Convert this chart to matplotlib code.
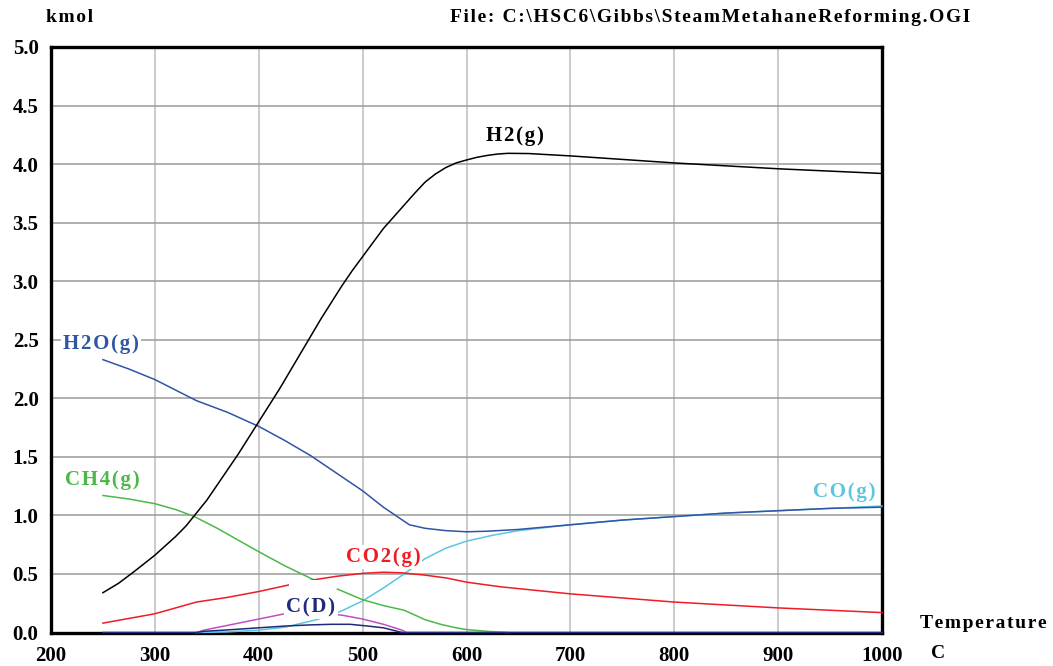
import matplotlib
matplotlib.use("Agg")
import matplotlib.pyplot as plt
from matplotlib.patches import Rectangle

# ---- data ----
h2_T = [250, 265, 280, 290, 300, 310, 320, 330, 340, 350, 360, 370, 380, 390, 400, 410, 420, 430,
        440, 450, 460, 470, 480, 490, 500, 510, 520, 530, 540, 550, 560, 570, 580, 590, 600, 610,
        620, 630, 640, 660, 680, 700, 750, 800, 850, 900, 950, 1000]
h2_v = [0.34, 0.42, 0.52, 0.59, 0.66, 0.74, 0.82, 0.91, 1.02, 1.13, 1.26, 1.39, 1.52, 1.66, 1.80,
        1.94, 2.08, 2.23, 2.38, 2.53, 2.68, 2.82, 2.96, 3.09, 3.21, 3.33, 3.45, 3.55, 3.65, 3.75,
        3.845, 3.915, 3.97, 4.01, 4.035, 4.058, 4.074, 4.086, 4.092, 4.09, 4.08, 4.07, 4.04, 4.01,
        3.985, 3.96, 3.94, 3.92]

h2o_T = [250, 275, 300, 320, 340, 370, 400, 425, 450, 475, 500, 520, 540, 545, 560, 580, 600, 620,
         650, 700, 750, 800, 850, 900, 950, 1000]
h2o_v = [2.33, 2.25, 2.16, 2.07, 1.98, 1.88, 1.76, 1.64, 1.51, 1.36, 1.21, 1.07, 0.95, 0.92, 0.89,
         0.87, 0.86, 0.865, 0.88, 0.92, 0.96, 0.99, 1.02, 1.04, 1.06, 1.07]

ch4_T = [250, 275, 300, 320, 338, 360, 380, 400, 425, 453, 476, 500, 520, 540, 550, 560, 575, 590,
         600, 620, 640]
ch4_v = [1.17, 1.14, 1.10, 1.05, 0.99, 0.89, 0.79, 0.69, 0.57, 0.45, 0.37, 0.28, 0.23, 0.19, 0.15,
         0.11, 0.07, 0.04, 0.025, 0.01, 0.0]

co2_T = [250, 275, 300, 320, 340, 370, 400, 431, 453, 475, 500, 520, 537, 560, 581, 600, 633, 700,
         750, 800, 850, 900, 950, 1000]
co2_v = [0.08, 0.12, 0.16, 0.21, 0.26, 0.30, 0.35, 0.41, 0.45, 0.48, 0.505, 0.515, 0.51, 0.49,
         0.465, 0.43, 0.39, 0.33, 0.295, 0.26, 0.235, 0.21, 0.19, 0.17]

co_T = [340, 370, 400, 425, 456, 480, 500, 520, 540, 560, 580, 600, 625, 650, 700, 750, 800,
        850, 900, 950, 1000]
co_v = [0.0, 0.005, 0.02, 0.045, 0.11, 0.185, 0.27, 0.38, 0.50, 0.63, 0.72, 0.78, 0.83, 0.87,
        0.92, 0.96, 0.99, 1.02, 1.04, 1.06, 1.08]

cs_T = [340, 347, 375, 400, 425, 450, 480, 500, 520, 538, 542]
cs_v = [0.0, 0.02, 0.07, 0.115, 0.16, 0.175, 0.148, 0.115, 0.07, 0.02, 0.0]

cd_T = [250, 340, 347, 375, 400, 425, 450, 470, 488, 505, 520, 538, 1000]
cd_v = [0.0, 0.0, 0.01, 0.025, 0.04, 0.055, 0.065, 0.07, 0.07, 0.055, 0.04, 0.0, 0.0]

x_ticks = [200, 300, 400, 500, 600, 700, 800, 900, 1000]
y_ticks = [0.0, 0.5, 1.0, 1.5, 2.0, 2.5, 3.0, 3.5, 4.0, 4.5, 5.0]

C_H2 = "#000000"
C_H2O = "#2f55a4"
C_CH4 = "#4cb848"
C_CO2 = "#ee1c24"
C_CO = "#5bc6e0"
C_CS = "#c050c0"
C_CD = "#1f2a7a"

FONT = "Liberation Serif"


def sp(s):
    return "\u200a".join(s)


fig = plt.figure(figsize=(10.53, 6.66), dpi=100)
W, H = 1053, 666
ax = fig.add_axes([51 / W, (H - 632.5) / H, (882 - 51) / W, (632.5 - 47) / H])
ax.set_xlim(200, 1000)
ax.set_ylim(0, 5)

for t in x_ticks[1:-1]:
    ax.axvline(t, color="#bdbdbd", lw=1.1, zorder=1)
for v in y_ticks[1:-1]:
    ax.axhline(v, color="#9a9a9a", lw=1.1, zorder=1)

lw = 1.1
ax.plot(cs_T, cs_v, color=C_CS, lw=lw, zorder=3, clip_on=False)
ax.plot(co_T, co_v, color=C_CO, lw=lw, zorder=3, clip_on=False)
ax.plot(ch4_T, ch4_v, color=C_CH4, lw=lw, zorder=3, clip_on=False)
ax.plot(cd_T, cd_v, color=C_CD, lw=lw, zorder=3, clip_on=False)
ax.plot(co2_T, co2_v, color=C_CO2, lw=lw, zorder=3, clip_on=False)
ax.plot(h2o_T, h2o_v, color=C_H2O, lw=lw, zorder=3)
ax.plot(h2_T, h2_v, color=C_H2, lw=lw, zorder=3)

# hidden label box masking lines
ax.add_patch(Rectangle((429, 0.372), 46, 0.073, facecolor="white", edgecolor="none", zorder=4))

lab_kw = dict(fontfamily=FONT, fontweight="bold", fontsize=15, ha="center", va="center", zorder=5,
              bbox=dict(facecolor="white", edgecolor="none", pad=1.5))


def px2data(x, y):
    return 200 + (x - 51) / 1.039, (632.5 - y) / 117.1


for txt, (x, y), c in [("H2(g)", (515, 136), C_H2), ("H2O(g)", (101, 344), C_H2O),
                       ("CH4(g)", (102, 480), C_CH4), ("CO2(g)", (383, 557), C_CO2),
                       ("C(D)", (311, 607), C_CD), ("CO(g)", (844, 492), C_CO)]:
    dx, dy = px2data(x, y)
    ax.text(dx, dy, sp(txt), color=c, **lab_kw)

ax.set_xticks(x_ticks)
ax.set_yticks(y_ticks)
ax.set_xticklabels([str(t) for t in x_ticks])
ax.set_yticklabels([f"{v:.1f}" for v in y_ticks])
ax.tick_params(length=0)
for lab in ax.get_xticklabels() + ax.get_yticklabels():
    lab.set_fontfamily(FONT)
    lab.set_fontweight("bold")
    lab.set_fontsize(15)
ax.tick_params(axis="x", pad=10)
ax.tick_params(axis="y", pad=9)

for s in ax.spines.values():
    s.set_linewidth(2.4)
    s.set_color("black")
    s.set_zorder(2.5)

tk = dict(fontfamily=FONT, fontweight="bold", fontsize=14, va="center")
fig.text(70 / W, 1 - 18 / H, sp("kmol"), ha="center", **tk)
fig.text(970 / W, 1 - 18 / H, sp("File: C:\\HSC6\\Gibbs\\SteamMetahaneReforming.OGI"), ha="right", **tk)
fig.text(983 / W, 1 - 623 / H, sp("Temperature"), ha="center", **tk)
fig.text(938 / W, 1 - 653 / H, "C", ha="center", **tk)

fig.savefig("out.png", dpi=100)
